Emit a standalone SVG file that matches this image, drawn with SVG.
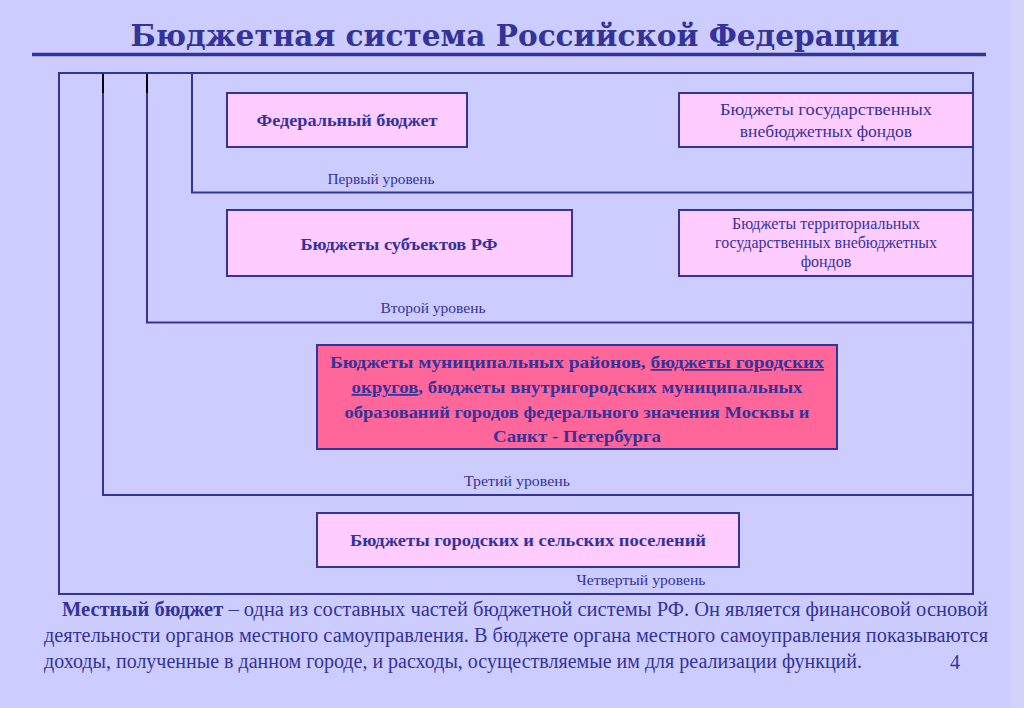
<svg xmlns="http://www.w3.org/2000/svg" width="1024" height="708" viewBox="0 0 1024 708">
<style>
  .ln { stroke: #333399; stroke-width: 2; fill: none; }
  .box { fill: #FFCCFF; stroke: #333399; stroke-width: 2; }
  .boxm { fill: #FF6699; stroke: #333399; stroke-width: 2; }
  text { font-family: "Liberation Serif", "Times New Roman", serif; fill: #333399; }
  .b { font-weight: bold; }
  .lvl { font-size: 15.5px; }
</style>
<rect x="0" y="0" width="1024" height="708" fill="#CCCCFF"/>
<rect x="1010" y="0" width="14" height="708" fill="#D2D2FA"/>
<g id="title">
  <text x="515" y="46" text-anchor="middle" font-size="30" font-weight="bold" textLength="769" lengthAdjust="spacingAndGlyphs" style="font-family:'DejaVu Serif', serif">Бюджетная система Российской Федерации</text>
  <line x1="32" y1="54.5" x2="986" y2="54.5" stroke="#333399" stroke-width="3.5"/>
</g>
<g id="connectors">
  <rect class="ln" x="59" y="73" width="914" height="521"/>
  <polyline class="ln" points="103,73 103,495 973,495"/>
  <polyline class="ln" points="147,73 147,322.5 973,322.5"/>
  <polyline class="ln" points="192,73 192,192.5 973,192.5"/>
  <line x1="103" y1="74" x2="103" y2="93" stroke="#000000" stroke-width="2"/>
  <line x1="147" y1="74" x2="147" y2="93" stroke="#000000" stroke-width="2"/>
</g>
<g id="federal">
  <rect class="box" x="227" y="93" width="240" height="54"/>
  <text class="b" x="347" y="126" font-size="17" text-anchor="middle" textLength="181" lengthAdjust="spacingAndGlyphs">Федеральный бюджет</text>
</g>
<g id="state-funds">
  <rect class="box" x="679" y="93" width="294" height="54"/>
  <text x="826" y="115" font-size="17.5" text-anchor="middle" textLength="212" lengthAdjust="spacingAndGlyphs">Бюджеты государственных</text>
  <text x="826" y="137" font-size="17.5" text-anchor="middle">внебюджетных фондов</text>
</g>
<text id="level1" class="lvl" x="381" y="184" text-anchor="middle" textLength="107" lengthAdjust="spacingAndGlyphs">Первый уровень</text>
<g id="subjects">
  <rect class="box" x="227" y="210" width="345" height="66"/>
  <text class="b" x="399" y="250" font-size="17.5" text-anchor="middle" textLength="197" lengthAdjust="spacingAndGlyphs">Бюджеты субъектов РФ</text>
</g>
<g id="territorial-funds">
  <rect class="box" x="679" y="210" width="294" height="66"/>
  <text x="826" y="229" font-size="16" text-anchor="middle">Бюджеты территориальных</text>
  <text x="826" y="248" font-size="16" text-anchor="middle" textLength="222" lengthAdjust="spacingAndGlyphs">государственных внебюджетных</text>
  <text x="826" y="267" font-size="16" text-anchor="middle">фондов</text>
</g>
<text id="level2" class="lvl" x="433" y="313" text-anchor="middle" textLength="105" lengthAdjust="spacingAndGlyphs">Второй уровень</text>
<g id="municipal">
  <rect class="boxm" x="317" y="345" width="520" height="104"/>
  <text class="b" x="577" y="368" font-size="17.5" text-anchor="middle" textLength="494" lengthAdjust="spacingAndGlyphs">Бюджеты муниципальных районов, <tspan text-decoration="underline">бюджеты городских</tspan></text>
  <text class="b" x="577" y="393" font-size="17.5" text-anchor="middle" textLength="451" lengthAdjust="spacingAndGlyphs"><tspan text-decoration="underline">округов</tspan>, бюджеты внутригородских муниципальных</text>
  <text class="b" x="577" y="418" font-size="17.5" text-anchor="middle" textLength="465" lengthAdjust="spacingAndGlyphs">образований городов федерального значения Москвы и</text>
  <text class="b" x="577" y="442" font-size="17.5" text-anchor="middle" textLength="168" lengthAdjust="spacingAndGlyphs">Санкт - Петербурга</text>
</g>
<text id="level3" class="lvl" x="517" y="486" text-anchor="middle" textLength="106" lengthAdjust="spacingAndGlyphs">Третий уровень</text>
<g id="settlements">
  <rect class="box" x="317" y="513" width="422" height="54"/>
  <text class="b" x="528" y="546" font-size="17" text-anchor="middle" textLength="356" lengthAdjust="spacingAndGlyphs">Бюджеты городских и сельских поселений</text>
</g>
<text id="level4" class="lvl" x="641" y="585" text-anchor="middle" textLength="129" lengthAdjust="spacingAndGlyphs">Четвертый уровень</text>
<g id="paragraph">
  <text x="62" y="616" font-size="20" textLength="926" lengthAdjust="spacingAndGlyphs"><tspan class="b">Местный бюджет</tspan> – одна из составных частей бюджетной системы РФ. Он является финансовой основой</text>
  <text x="44" y="642" font-size="20" textLength="944" lengthAdjust="spacingAndGlyphs">деятельности органов местного самоуправления. В бюджете органа местного самоуправления показываются</text>
  <text x="44" y="668" font-size="20" textLength="818" lengthAdjust="spacingAndGlyphs">доходы, полученные в данном городе, и расходы, осуществляемые им для реализации функций.</text>
  <text x="950" y="669" font-size="20">4</text>
</g>
</svg>
